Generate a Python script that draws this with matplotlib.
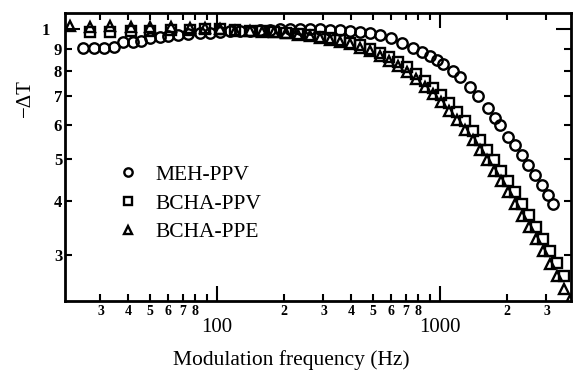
import matplotlib
matplotlib.use("Agg")
import matplotlib.pyplot as plt
from matplotlib.lines import Line2D
from matplotlib.ticker import FixedLocator, FixedFormatter

plt.rcParams["font.family"] = ["Liberation Serif", "DejaVu Serif"]

# MEH-PPV (circles)
meh_freq = [25, 28, 31, 34.5, 38, 42, 45.5, 50, 55.5, 60, 67, 74, 84, 93, 103,
            114, 127, 141, 156, 173, 192, 212, 236, 261, 289, 321, 356, 394,
            437, 485, 537, 603, 675, 757, 830, 902, 970, 1031, 1143, 1230,
            1364, 1480, 1641, 1765, 1858, 2018, 2169, 2333, 2482, 2668, 2866,
            3049, 3212]
meh_dt = [0.905, 0.905, 0.905, 0.91, 0.935, 0.935, 0.94, 0.955, 0.96, 0.965,
          0.97, 0.975, 0.98, 0.98, 0.985, 0.99, 0.99, 0.99, 0.995, 0.995,
          1.0, 1.0, 1.0, 1.0, 1.0, 0.995, 0.995, 0.99, 0.985, 0.98,
          0.97, 0.955, 0.93, 0.905, 0.885, 0.865, 0.848, 0.83, 0.80, 0.775,
          0.735, 0.70, 0.655, 0.622, 0.598, 0.563, 0.539, 0.511, 0.485, 0.459,
          0.435, 0.413, 0.394]

# BCHA-PPV (squares)
ppv_freq = [27, 33, 41, 50, 62, 76, 88, 103, 120, 141, 159, 180, 204, 231,
            261, 290, 321, 356, 395, 438, 485, 538, 590, 648, 711, 780, 857,
            930, 1010, 1097, 1191, 1294, 1406, 1511, 1625, 1746, 1878, 2018,
            2170, 2333, 2506, 2694, 2897, 3113, 3347, 3598]
ppv_dt = [0.985, 0.985, 0.99, 0.99, 0.995, 0.995, 1.0, 1.0,
          0.993, 0.990, 0.988, 0.984, 0.980, 0.974, 0.968, 0.960, 0.952,
          0.942, 0.930, 0.916, 0.899, 0.881, 0.861, 0.839, 0.815, 0.788, 0.759,
          0.732, 0.704, 0.674, 0.643, 0.611, 0.580, 0.552, 0.524, 0.497, 0.470,
          0.444, 0.419, 0.394, 0.371, 0.348, 0.326, 0.306, 0.287, 0.268]

# BCHA-PPE (triangles)
ppe_freq = [22, 27, 33, 41, 50, 62, 76, 88, 103, 120, 141, 159, 180, 204, 231,
            261, 290, 321, 356, 395, 438, 485, 538, 590, 648, 711, 780, 857,
            930, 1010, 1097, 1191, 1294, 1406, 1511, 1625, 1746, 1878, 2018,
            2170, 2333, 2506, 2694, 2897, 3113, 3347, 3598, 3828]
ppe_dt = [1.015, 1.01, 1.015, 1.01, 1.01, 1.01, 1.005, 1.005,
          1.0, 0.992, 0.989, 0.986, 0.982, 0.977, 0.970, 0.963, 0.955, 0.945,
          0.934, 0.921, 0.905, 0.887, 0.866, 0.844, 0.820, 0.794, 0.766, 0.735,
          0.707, 0.677, 0.647, 0.615, 0.584, 0.552, 0.524, 0.497, 0.470, 0.444,
          0.419, 0.394, 0.370, 0.348, 0.326, 0.306, 0.286, 0.268, 0.250, 0.236]

labels = ["MEH-PPV", "BCHA-PPV", "BCHA-PPE"]

# tick positions / labels
x_major = [100, 1000]
x_major_labels = ["100", "1000"]
x_minor = [30, 40, 50, 60, 70, 80, 90, 200, 300, 400, 500, 600, 700, 800, 900,
           2000, 3000]
x_minor_labels = ["3", "4", "5", "6", "7", "8", "", "2", "3", "4", "5", "6",
                  "7", "8", "", "2", "3"]
y_major = [1.0]
y_major_labels = ["1"]
y_minor = [0.3, 0.4, 0.5, 0.6, 0.7, 0.8, 0.9]
y_minor_labels = ["3", "4", "5", "6", "7", "8", "9"]

fig = plt.figure(figsize=(5.74, 3.76), dpi=100)
ax = fig.add_axes([0.1132, 0.1995, 0.8816, 0.7659])

mk = dict(linestyle="none", markerfacecolor="none", markeredgecolor="black",
          markeredgewidth=1.7, markersize=7.5)
ax.plot(meh_freq, meh_dt, marker="o", **mk)
ax.plot(ppv_freq, ppv_dt, marker="s", **mk)
ax.plot(ppe_freq, ppe_dt, marker="^", **mk)

ax.set_xscale("log")
ax.set_yscale("log")
ax.set_xlim(20.8, 3865)
ax.set_ylim(0.2346, 1.089)

ax.xaxis.set_major_locator(FixedLocator(x_major))
ax.xaxis.set_major_formatter(FixedFormatter(x_major_labels))
ax.xaxis.set_minor_locator(FixedLocator(x_minor))
ax.xaxis.set_minor_formatter(FixedFormatter(x_minor_labels))
ax.yaxis.set_major_locator(FixedLocator(y_major))
ax.yaxis.set_major_formatter(FixedFormatter(y_major_labels))
ax.yaxis.set_minor_locator(FixedLocator(y_minor))
ax.yaxis.set_minor_formatter(FixedFormatter(y_minor_labels))

ax.tick_params(which="both", direction="in", top=True, right=True,
               color="black", width=1.5)
ax.tick_params(which="major", length=11)
ax.tick_params(which="minor", length=5)
ax.tick_params(axis="x", which="major", pad=12, labelsize=15)
ax.tick_params(axis="x", which="minor", pad=3, labelsize=10)
ax.tick_params(axis="y", which="major", pad=11, labelsize=12)
ax.tick_params(axis="y", which="minor", pad=2, labelsize=12)
for lab in (ax.get_xticklabels(minor=True) + ax.get_yticklabels(minor=True)
            + ax.get_yticklabels()):
    lab.set_fontweight("bold")

for sp in ax.spines.values():
    sp.set_linewidth(2)

handles = [Line2D([], [], marker=m, **mk) for m in ["o", "s", "^"]]
ax.legend(handles, labels, loc="upper left", bbox_to_anchor=(0.104, 0.473),
          frameon=False, fontsize=15.5, handlelength=1.0, handletextpad=0.75,
          borderpad=0, borderaxespad=0, labelspacing=0.4, markerscale=0.8)

fig.text(25 / 574, 1 - 98 / 376, "\u2212\u0394T", rotation=90, fontsize=15,
         ha="center", va="center")
fig.text(291 / 574, 1 - 360 / 376, "Modulation frequency (Hz)", fontsize=15.5,
         ha="center", va="center")

fig.savefig("out.png", dpi=100)
